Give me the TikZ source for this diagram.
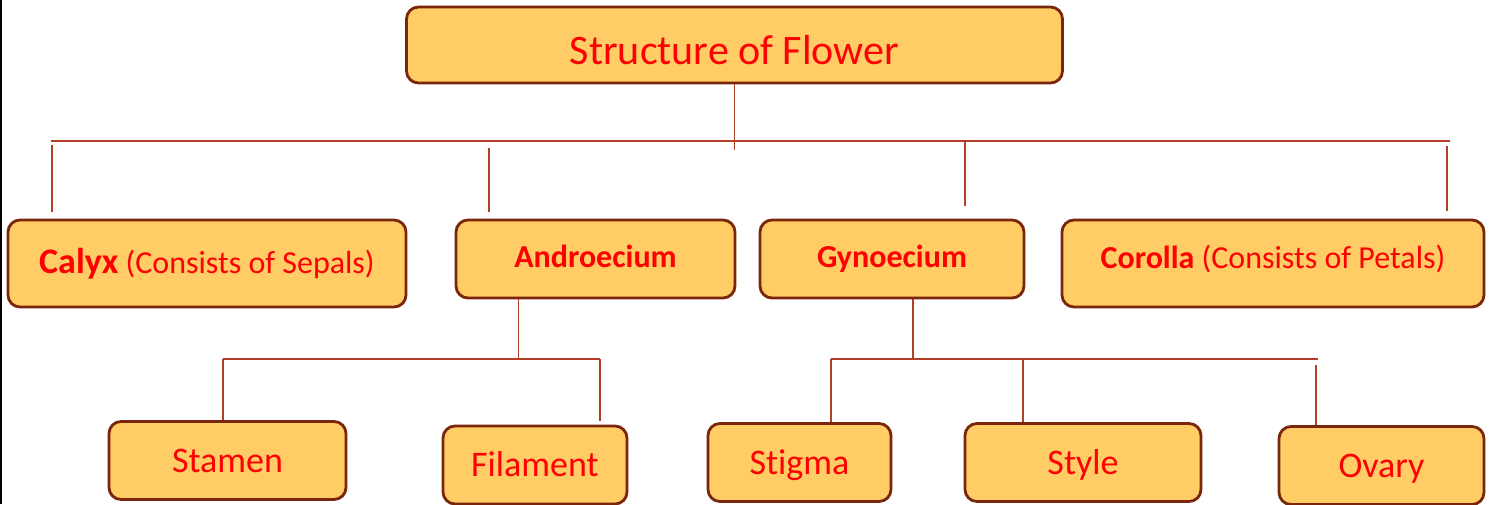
\documentclass[tikz,border=0pt]{standalone}
\usepackage{fontspec}
\setmainfont{Carlito}[Ligatures=CommonOff]
\usetikzlibrary{positioning}
\definecolor{boxfill}{RGB}{255,204,102}
\definecolor{boxline}{RGB}{122,38,10}
\definecolor{linkcol}{RGB}{178,62,40}
\begin{document}
\begin{tikzpicture}[x=0.5pt,y=-0.5pt]
\tikzset{box/.style={draw=boxline,line width=1.4pt,rounded corners=6pt,fill=boxfill,text=red,align=center,inner sep=0pt,text depth=0pt},
  lvtwo/.style={box,text height=10.3pt,font=\fontsize{16}{19}\selectfont},
  lvthree/.style={box,minimum height=39pt,text height=11.6pt,font=\fontsize{18}{22}\selectfont},
  link/.style={draw=linkcol,line width=0.7pt}}
\useasboundingbox (0,0) rectangle (1494,504);
\fill (0,0) rectangle (2,504);
\node[box,minimum width=328pt,minimum height=38pt,text height=19.5pt,font=\fontsize{21}{25}\selectfont] (a) at (734.5,45) {Structure of Flower};
\node[lvtwo,minimum width=199pt,minimum height=43.5pt,text height=11.6pt,text depth=2pt] (b) at (207,263.5) {{\fontsize{18}{19}\selectfont\bfseries Calyx} (Consists of Sepals)};
\node[lvtwo,minimum width=139.5pt,minimum height=39pt,font=\fontsize{16}{19}\selectfont\bfseries,text depth=2pt] (c) at (595.5,259) {Androecium};
\node[lvtwo,minimum width=132pt,minimum height=39pt,font=\fontsize{16}{19}\selectfont\bfseries,text depth=2pt] (d) at (892,259) {Gynoecium};
\node[lvtwo,minimum width=211pt,minimum height=43.5pt,text depth=5pt] (e) at (1273,263.5) {\textbf{Corolla} (Consists of Petals)};
\node[lvthree,minimum width=118.5pt] (f) at (227.5,460.5) {Stamen};
\node[lvthree,minimum width=92pt] (g) at (535,465) {Filament};
\node[lvthree,minimum width=91.5pt] (h) at (799.5,462.5) {Stigma};
\node[lvthree,minimum width=118pt] (i) at (1083,462.5) {Style};
\node[lvthree,minimum width=102.5pt] (j) at (1381.5,465.5) {Ovary};
% first level
\coordinate (t1) at (51,141); \coordinate (t2) at (1450,141);
\draw[link,shorten >=-4.5pt] (a) -- (a |- t1);
\draw[link] (t1) -- (t2);
\coordinate (k1) at (52,145); \coordinate (k2) at (489,148); \coordinate (k3) at (965,140); \coordinate (k4) at (1447,146);
\draw[link,shorten >=3.5pt] (k1) -- (k1 |- b.north); \draw[link,shorten >=3.5pt] (k2) -- (k2 |- c.north);
\draw[link,shorten >=6.5pt] (k3) -- (k3 |- d.north); \draw[link,shorten >=4pt] (k4) -- (k4 |- e.north);
% second level
\coordinate (u1) at (223,359); \coordinate (u2) at (600,359);
\draw[link] ([xshift=-38.5pt]c.south) -- ([xshift=-38.5pt]c.south |- u1);
\draw[link] (u1) -- (u2);
\draw[link] (u1) -- (u1 |- f.north); \draw[link,shorten >=2pt] (u2) -- (u2 |- g.north);
\coordinate (v1) at (831,359); \coordinate (v2) at (1318,359);
\draw[link] ([xshift=10.5pt]d.south) -- ([xshift=10.5pt]d.south |- v1);
\draw[link] (v1) -- (v2);
\coordinate (v3) at (1023,358); \coordinate (v4) at (1316,365);
\draw[link] (v1) -- (v1 |- h.north); \draw[link] (v3) -- (v3 |- i.north); \draw[link] (v4) -- (v4 |- j.north);
\end{tikzpicture}
\end{document}
